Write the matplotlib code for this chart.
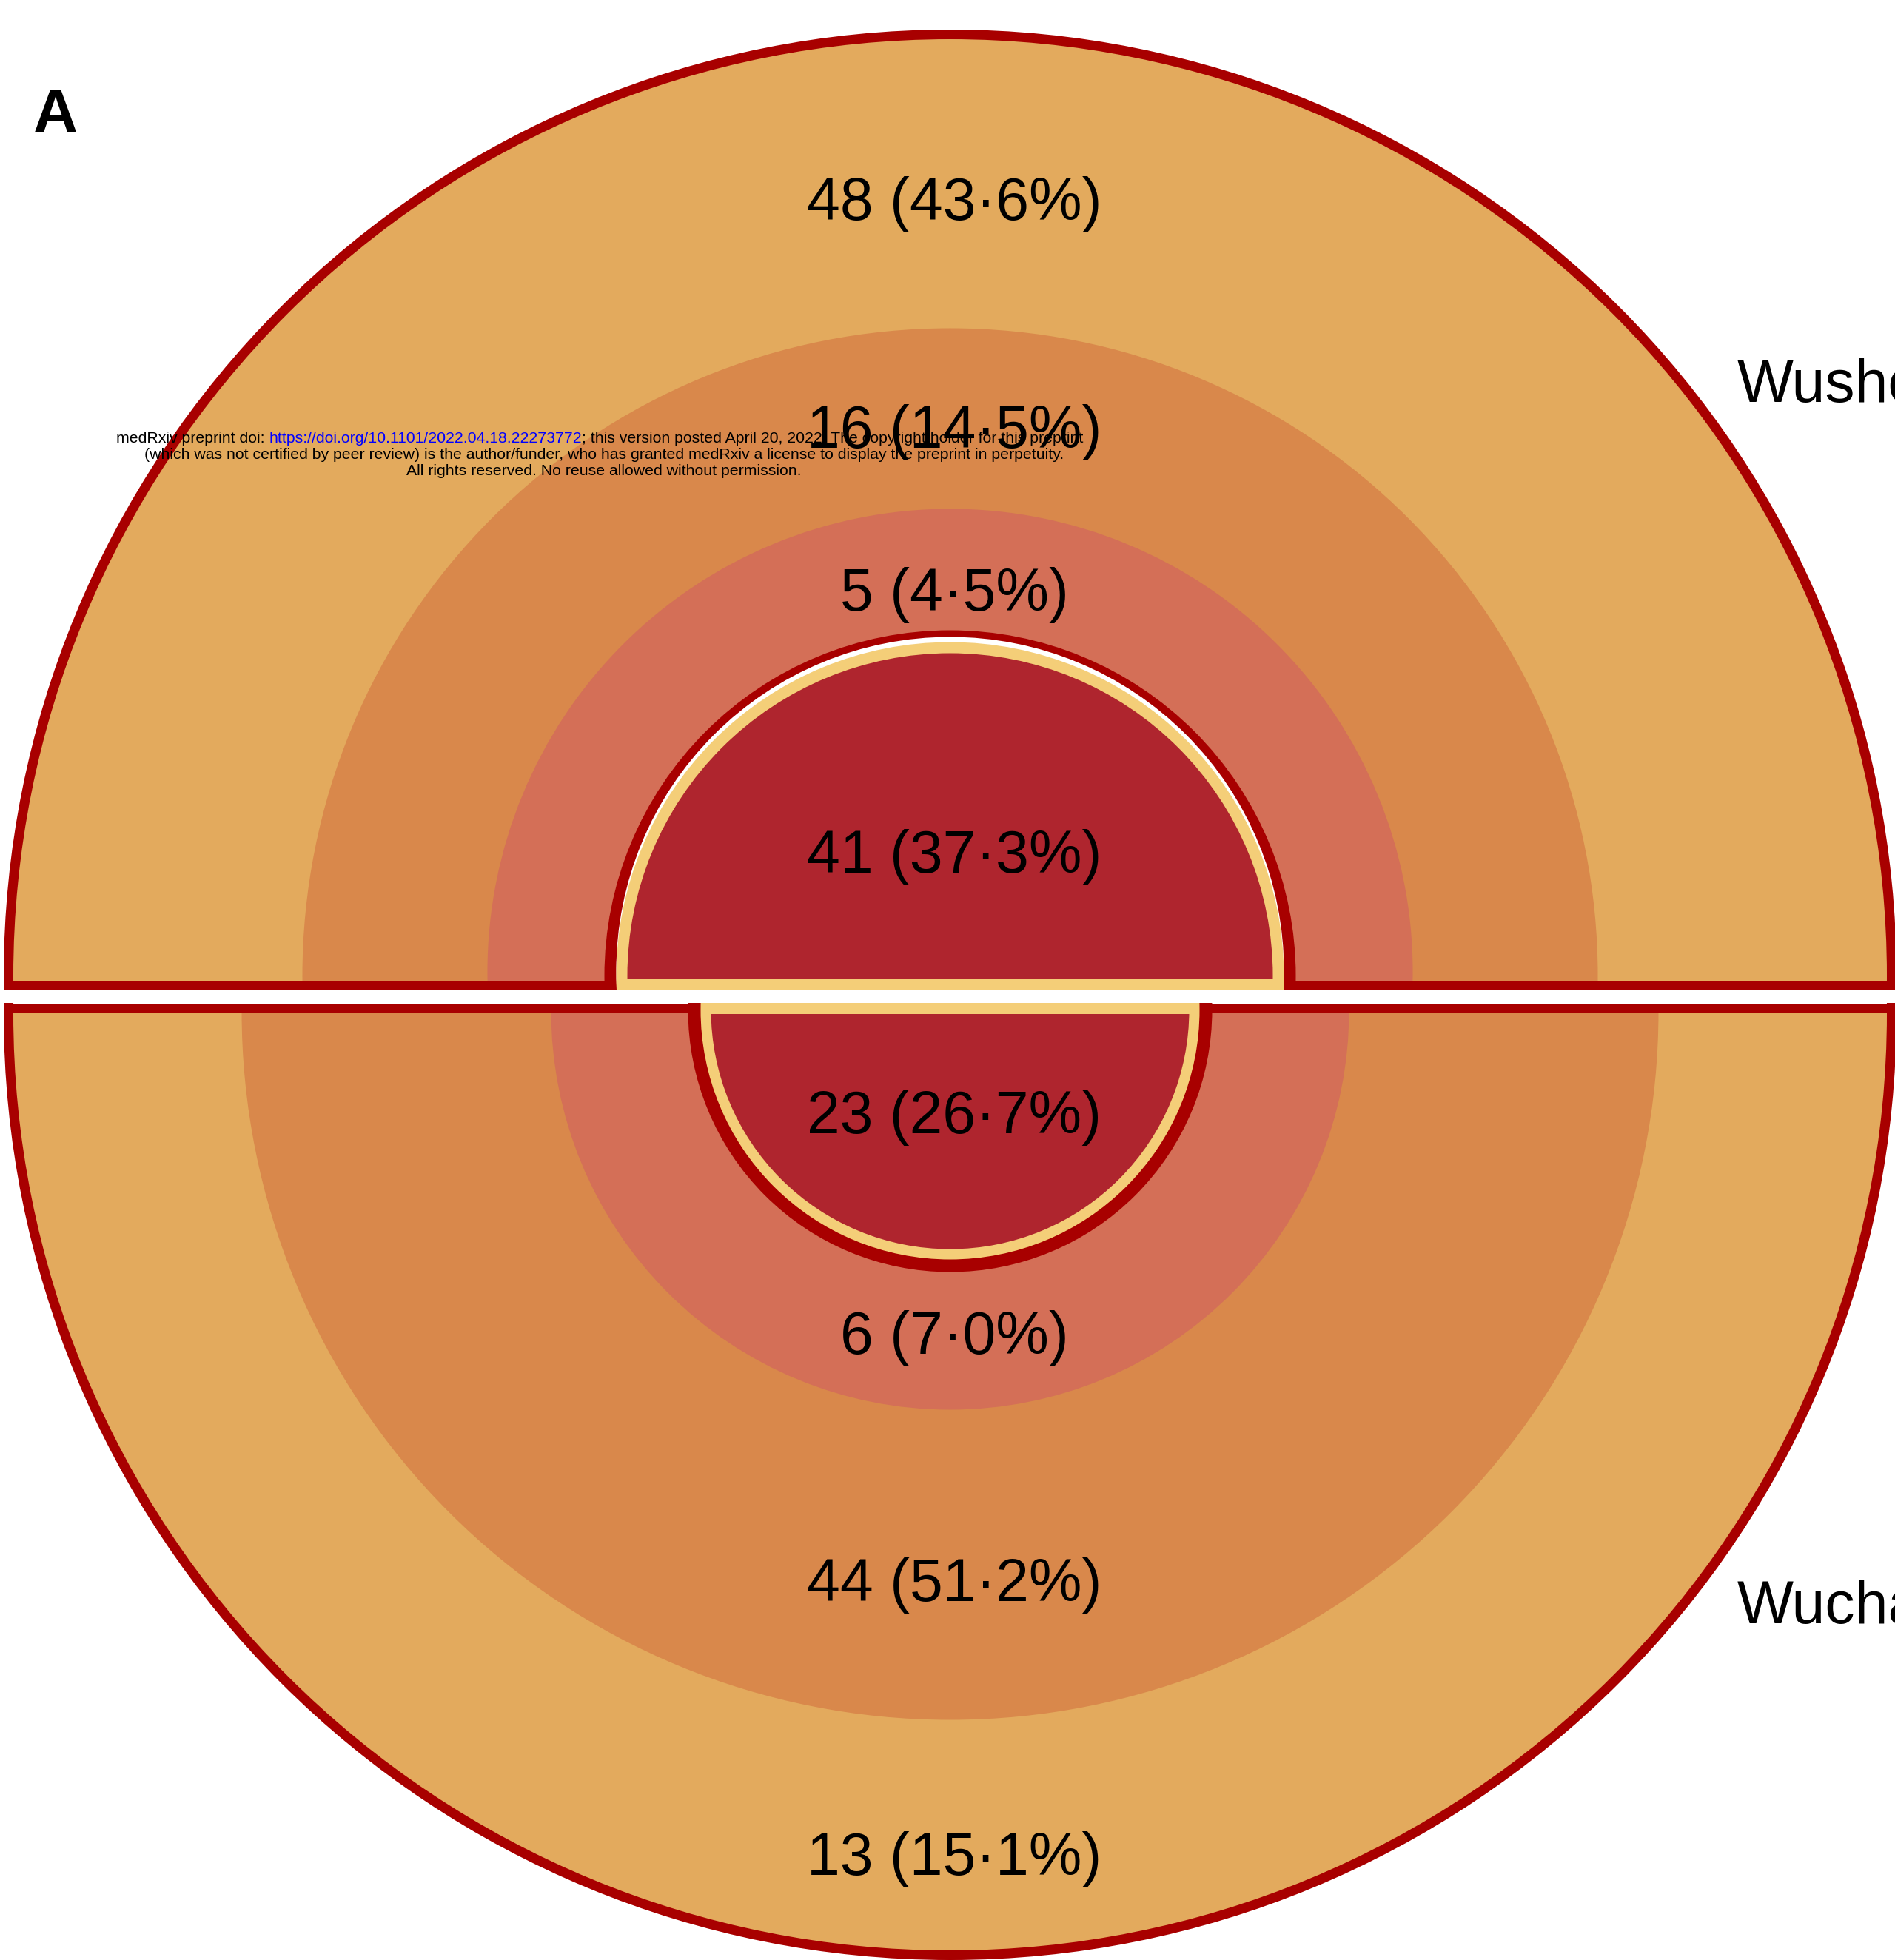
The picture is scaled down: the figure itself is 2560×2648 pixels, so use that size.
import math
import matplotlib
matplotlib.use("Agg")
import matplotlib.pyplot as plt
from matplotlib.patches import Circle, Rectangle

# values, outermost ring first
sites = ['Wusheng', 'Wuchang']
top_counts = [48, 16, 5, 41]
top_pcts = [43.6, 14.5, 4.5, 37.3]
bottom_counts = [13, 44, 6, 23]
bottom_pcts = [15.1, 51.2, 7.0, 26.7]

ring_colors = ['#E3AA5D', '#D9884B', '#D46F57', '#AF252E']
edge_red = '#A80000'
rim_yellow = '#F4CE78'

# layout (pixels of the 2560x2648 canvas)
W, H, DPI = 2560, 2648, 100
PX = 72.0 / DPI
LW = 13  # outline width in px
cx = 1283.5
top_base = 1330.5
bot_base = 1361.5
# radius and upward/downward shift of each circle centre
top_radii = [1272, 875, 625, 436]
top_shift = [12, 12, 18, 12]
top_core = (467, 451)
bot_radii = [1272, 957, 539, 323]
bot_shift = [8, 5, 4, 3]
bot_core = (354, 337)
top_label_r = [1055, 746, 526, 173]
bot_label_r = [1151, 781, 447, 148]

plt.rcParams['font.family'] = ['Liberation Sans', 'DejaVu Sans']

fig = plt.figure(figsize=(W / DPI, H / DPI), dpi=DPI)
ax = fig.add_axes([0, 0, 1, 1])
ax.set_xlim(0, W)
ax.set_ylim(H, 0)
ax.axis('off')


def pct_label(n, p):
    return f"{n} ({p:.1f}%)".replace('.', '\u00b7')


def clipped(patch, y_lo, y_hi):
    ax.add_patch(patch)
    patch.set_clip_path(Rectangle((0, y_lo), W, y_hi - y_lo, transform=ax.transData))


def half(base, radii, shift, core, counts, pcts, label_r, up):
    sign = -1 if up else 1
    half_lw = LW / 2

    def span(off):
        # y range of this half, pushed past the base line by off
        return (0, base + off) if up else (base - off, H)

    for r, d, c in zip(radii[:3], shift[:3], ring_colors[:3]):
        clipped(Circle((cx, base + sign * d), r, fc=c, ec='none', zorder=1), *span(0))

    # outer outline: arc plus the straight base
    r0, d0 = radii[0], shift[0]
    clipped(Circle((cx, base + sign * d0), r0, fill=False, ec=edge_red, lw=LW * PX,
                   zorder=2), *span(half_lw))
    xb = math.sqrt(r0 ** 2 - d0 ** 2)
    ax.plot([cx - xb, cx + xb], [base, base], color=edge_red, lw=LW * PX,
            solid_capstyle='butt', zorder=2)

    # centre disc: dark red rim, yellow rim, filled core
    dc = shift[3]
    cc = (cx, base + sign * dc)
    clipped(Circle(cc, core[0], fc=edge_red, ec='none', zorder=3), *span(half_lw))
    if up:
        clipped(Circle((cx, base + sign * (dc + 7)), core[1], fc='white', ec='none',
                       zorder=3.5), *span(half_lw))
    clipped(Circle(cc, core[1], fc=rim_yellow, ec='none', zorder=4), *span(half_lw))
    clipped(Circle(cc, radii[3], fc=ring_colors[3], ec='none', zorder=5), *span(-8))

    for n, p, lr in zip(counts, pcts, label_r):
        ax.text(cx + 6, base + sign * lr, pct_label(n, p), fontsize=58,
                ha='center', va='center', color='black', zorder=10)


half(top_base, top_radii, top_shift, top_core, top_counts, top_pcts, top_label_r, True)
half(bot_base, bot_radii, bot_shift, bot_core, bottom_counts, bottom_pcts, bot_label_r, False)

# district names, cut by the right edge as in the source
ax.text(2347, 543, sites[0], fontsize=58, ha='left', va='baseline')
ax.text(2347, 2193, sites[1], fontsize=58, ha='left', va='baseline')

# panel letter
ax.text(45, 178, 'A', fontsize=60, fontweight='bold', ha='left', va='baseline')

# preprint notice
fs = 15.3
p1 = ax.text(157, 593, 'medRxiv preprint doi: ', fontsize=fs, ha='left', va='center', zorder=20)
p2 = ax.annotate('https://doi.org/10.1101/2022.04.18.22273772', xy=(1, 0), xycoords=p1,
                 fontsize=fs, ha='left', va='bottom', color='#0000FF', zorder=20)
p3 = ax.annotate('; this version posted April 20, 2022. The copyright holder for this preprint',
                 xy=(1, 0), xycoords=p2, fontsize=fs, ha='left', va='bottom', zorder=20)
ax.text(816, 615, '(which was not certified by peer review) is the author/funder, who has granted '
        'medRxiv a license to display the preprint in perpetuity.', fontsize=fs,
        ha='center', va='center', zorder=20)
ax.text(816, 637, 'All rights reserved. No reuse allowed without permission.', fontsize=fs,
        ha='center', va='center', zorder=20)

fig.savefig('out.png', dpi=DPI)
